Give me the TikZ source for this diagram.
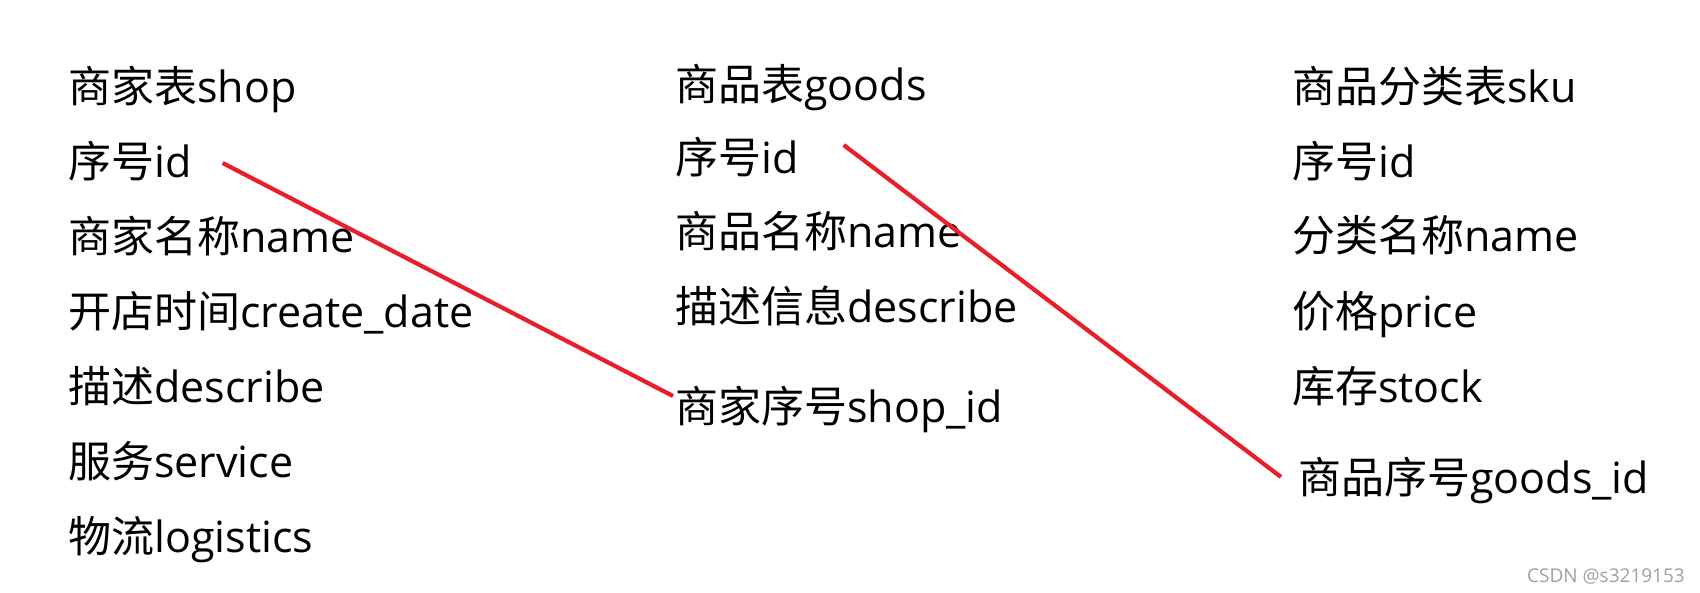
\documentclass[tikz,border=0pt]{standalone}
\usepackage{fontspec}
\setmainfont{Open Sans}
\newfontfamily\cjk{Noto Sans CJK SC}
\usetikzlibrary{positioning}
\definecolor{linkred}{RGB}{232,30,40}
\definecolor{markgray}{RGB}{160,160,160}
\tikzset{
    field/.style = {anchor=base west, inner sep=0pt, font=\fontsize{43}{50}\selectfont},
    link/.style = {draw=linkred, line width=4.2pt},
    wmark/.style = {anchor=base east, inner sep=0pt, text=markgray, font=\fontsize{19}{24}\selectfont}
}
\newcommand{\zh}[1]{{\cjk #1}}

\begin{document}
\begin{tikzpicture}[x=1pt,y=-1pt]
\useasboundingbox (0,0) rectangle (1700,592);
% shop
\node[field] at (68,102) (s0) {\zh{商家表}shop};
\node[field] at (68,177) (s1) {\zh{序号}id};
\node[field] at (68,252) (s2) {\zh{商家名称}name};
\node[field] at (68,327) (s3) {\zh{开店时间}create\_date};
\node[field] at (68,402) (s4) {\zh{描述}describe};
\node[field] at (68,477) (s5) {\zh{服务}service};
\node[field] at (68,552) (s6) {\zh{物流}logistics};
% goods
\node[field] at (675,100) (g0) {\zh{商品表}goods};
\node[field] at (675,173) (g1) {\zh{序号}id};
\node[field] at (675,247) (g2) {\zh{商品名称}name};
\node[field] at (675,322) (g3) {\zh{描述信息}describe};
\node[field] at (675,422) (g4) {\zh{商家序号}shop\_id};
% sku
\node[field] at (1292,102) (k0) {\zh{商品分类表}sku};
\node[field] at (1292,177) (k1) {\zh{序号}id};
\node[field] at (1292,251) (k2) {\zh{分类名称}name};
\node[field] at (1292,327) (k3) {\zh{价格}price};
\node[field] at (1292,402) (k4) {\zh{库存}stock};
\node[field] at (1298,493) (k5) {\zh{商品序号}goods\_id};
%
\draw[link] ([xshift=31pt,yshift=14pt]s1.base east) -- ([xshift=-2pt,yshift=26pt]g4.base west);
\draw[link] ([xshift=45pt,yshift=28pt]g1.base east) -- ([xshift=-17pt,yshift=16pt]k5.base west);
%
\node[wmark] at (1685,582) (wm) {CSDN @s3219153};
\end{tikzpicture}
\end{document}
